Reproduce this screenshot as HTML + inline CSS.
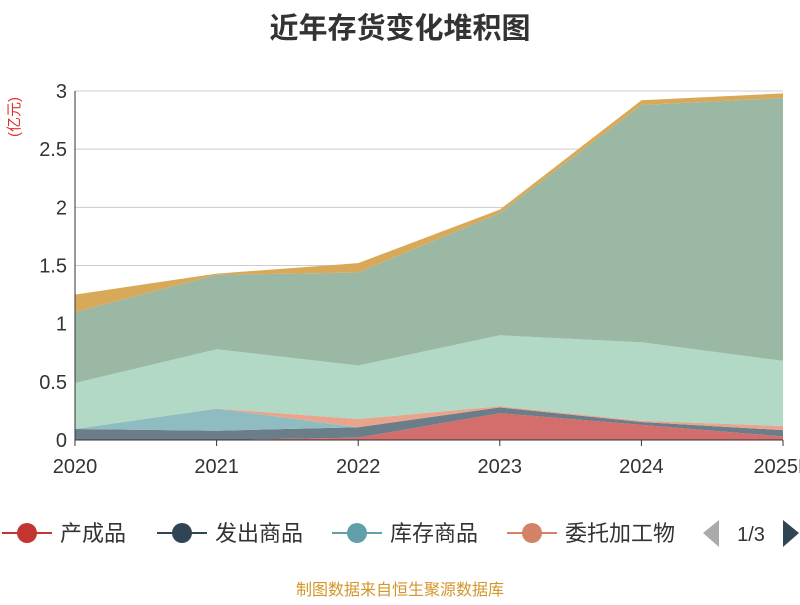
<!DOCTYPE html>
<html><head><meta charset="utf-8"><style>
body{margin:0;background:#fff;font-family:"Liberation Sans","Noto Sans CJK SC",sans-serif}
svg text{font-family:"Liberation Sans","Noto Sans CJK SC",sans-serif}
</style></head><body>
<svg id="c" width="800" height="600">
<text x="400" y="38" text-anchor="middle" font-size="29" font-weight="bold" fill="#333">近年存货变化堆积图</text>
<text transform="translate(19,117) rotate(-90)" text-anchor="middle" font-size="15" fill="#e03030">(亿元)</text>
<g id="grid"></g><g id="areas"></g><g id="axes"></g>
<g id="legend"></g>
<text x="400" y="595" text-anchor="middle" font-size="16" fill="#d4952a">制图数据来自恒生聚源数据库</text>
</svg>
<script>
const categories=["2020","2021","2022","2023","2024","2025H"];
const yTicks=[0,0.5,1,1.5,2,2.5,3];
const s1=[0,0,0.02,0.23,0.13,0.03];
const s2=[0.095,0.08,0.09,0.05,0.025,0.055];
const s3=[0,0.19,0,0,0,0];
const s4=[0,0,0.07,0.01,0.01,0.035];
const s5=[0.395,0.51,0.46,0.61,0.675,0.56];
const s6=[0.61,0.64,0.80,1.05,2.04,2.26];
const s7=[0.15,0.01,0.08,0.03,0.04,0.04];
const seriesNames=["产成品","发出商品","库存商品","委托加工物资","s5","s6","s7"];
const fills=["#d46e6c","#6c7d8a","#8fbcc0","#e8a48c","#b2d8c6","#9bb8a4","#d9a95a"];
const NS="http://www.w3.org/2000/svg";
const X0=75,X1=783,Y0=440,Y1=91,YMAX=3;
const xs=i=>X0+(X1-X0)*i/(categories.length-1);
const ys=v=>Y0-(Y0-Y1)*v/YMAX;
function mk(t,a,p){const e=document.createElementNS(NS,t);for(const k in a)e.setAttribute(k,a[k]);p.appendChild(e);return e;}
const grid=document.getElementById('grid'),areas=document.getElementById('areas'),axes=document.getElementById('axes');
yTicks.forEach(v=>{
 const l=mk('line',{x1:X0,x2:X1,y1:ys(v),y2:ys(v),stroke:v==0?'#333':'#ccc','stroke-width':1},grid);
 
 
 const t=mk('text',{x:X0-8,y:ys(v)+7,'text-anchor':'end','font-size':20,fill:'#333'},axes);
 t.textContent=String(v);
 
 
});
const all=[s1,s2,s3,s4,s5,s6,s7];
let base=categories.map(()=>0);
all.forEach((s,k)=>{
 const top=base.map((b,i)=>b+s[i]);
 let d='M'+top.map((v,i)=>xs(i)+','+ys(v)).join('L');
 for(let i=base.length-1;i>=0;i--)d+='L'+xs(i)+','+ys(base[i]);
 const p=mk('path',{d:d+'Z',fill:fills[k],stroke:'none'},areas);
 
 
 base=top;
});
mk('line',{x1:X0,x2:X0,y1:Y1,y2:Y0,stroke:'#333'},axes);
mk('line',{x1:X0,x2:X1,y1:Y0,y2:Y0,stroke:'#333'},axes);
categories.forEach((c,i)=>{
 mk('line',{x1:xs(i),x2:xs(i),y1:Y0,y2:Y0+6,stroke:'#333'},axes);
 const t=mk('text',{x:xs(i),y:Y0+33,'text-anchor':'middle','font-size':20,fill:'#333'},axes);
 t.textContent=c;
 
 
});
const lg=document.getElementById('legend');
const lcol=["#c23531","#2f4554","#61a0a8","#d48265"];
const lx=[2,157,332,507];
for(let k=0;k<4;k++){
 const g=mk('g',{},lg);
 
 
 mk('line',{x1:lx[k],x2:lx[k]+50,y1:533,y2:533,stroke:lcol[k],'stroke-width':2},g);
 mk('circle',{cx:lx[k]+25,cy:533,r:10,fill:lcol[k]},g);
 const t=mk('text',{x:lx[k]+58,y:541,'font-size':22,fill:'#333'},g);
 t.textContent=k==3?'委托加工物':seriesNames[k];
}
const pl=mk('path',{d:'M719,520L719,547L703,533Z',fill:'#aaa'},lg);


const pt=mk('text',{x:751,y:541,'text-anchor':'middle','font-size':20,fill:'#333'},lg);
pt.textContent='1/3';


const pn=mk('path',{d:'M783,520L783,547L799,533Z',fill:'#2f4554'},lg);


</script>
</body></html>
